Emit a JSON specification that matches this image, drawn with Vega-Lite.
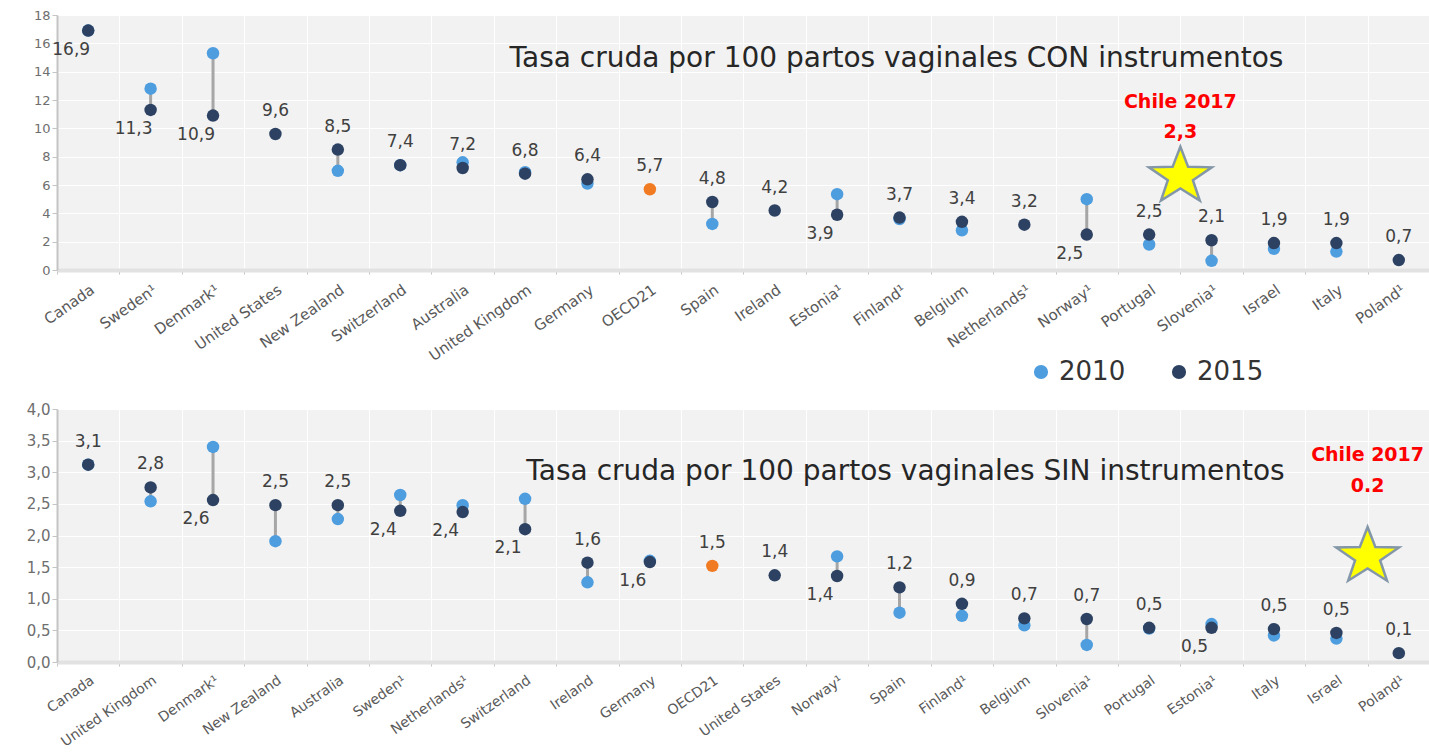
{
  "$schema": "https://vega.github.io/schema/vega-lite/v6.json",
  "background": "white",
  "padding": {"left": 26, "top": 9, "right": 0, "bottom": 0},
  "bounds": "flush",
  "spacing": 139,
  "config": {
    "locale": {"number": {"decimal": ",", "thousands": ".", "grouping": [3], "currency": ["", " €"]}},
    "font": "DejaVu Sans",
    "view": {"fill": "#f2f2f2", "stroke": null},
    "axis": {"gridColor": "#ffffff", "gridWidth": 1, "labelColor": "#6e6e6e", "tickColor": "#c4c4c4", "title": null},
    "legend": {"padding": 0}
  },
  "datasets": {
    "con": [
      {"country": "Canada", "2010": 16.9, "2015": 16.9},
      {"country": "Sweden¹", "2010": 12.8, "2015": 11.3},
      {"country": "Denmark¹", "2010": 15.3, "2015": 10.9},
      {"country": "United States", "2010": null, "2015": 9.6},
      {"country": "New Zealand", "2010": 7.0, "2015": 8.5},
      {"country": "Switzerland", "2010": 7.4, "2015": 7.4},
      {"country": "Australia", "2010": 7.6, "2015": 7.2},
      {"country": "United Kingdom", "2010": 6.9, "2015": 6.8},
      {"country": "Germany", "2010": 6.1, "2015": 6.4},
      {"country": "OECD21", "2010": null, "2015": 5.7},
      {"country": "Spain", "2010": 3.25, "2015": 4.8},
      {"country": "Ireland", "2010": null, "2015": 4.2},
      {"country": "Estonia¹", "2010": 5.35, "2015": 3.9},
      {"country": "Finland¹", "2010": 3.6, "2015": 3.7},
      {"country": "Belgium", "2010": 2.8, "2015": 3.4},
      {"country": "Netherlands¹", "2010": null, "2015": 3.2},
      {"country": "Norway¹", "2010": 5.0, "2015": 2.5},
      {"country": "Portugal", "2010": 1.8, "2015": 2.5},
      {"country": "Slovenia¹", "2010": 0.65, "2015": 2.1},
      {"country": "Israel", "2010": 1.5, "2015": 1.9},
      {"country": "Italy", "2010": 1.3, "2015": 1.9},
      {"country": "Poland¹", "2010": null, "2015": 0.7}
    ],
    "sin": [
      {"country": "Canada", "2010": 3.12, "2015": 3.12},
      {"country": "United Kingdom", "2010": 2.54, "2015": 2.76},
      {"country": "Denmark¹", "2010": 3.4, "2015": 2.56},
      {"country": "New Zealand", "2010": 1.91, "2015": 2.48},
      {"country": "Australia", "2010": 2.26, "2015": 2.48},
      {"country": "Sweden¹", "2010": 2.64, "2015": 2.39},
      {"country": "Netherlands¹", "2010": 2.48, "2015": 2.37},
      {"country": "Switzerland", "2010": 2.58, "2015": 2.1},
      {"country": "Ireland", "2010": 1.26, "2015": 1.57},
      {"country": "Germany", "2010": 1.6, "2015": 1.58},
      {"country": "OECD21", "2010": null, "2015": 1.52},
      {"country": "United States", "2010": null, "2015": 1.37},
      {"country": "Norway¹", "2010": 1.67, "2015": 1.36},
      {"country": "Spain", "2010": 0.78, "2015": 1.18},
      {"country": "Finland¹", "2010": 0.73, "2015": 0.92},
      {"country": "Belgium", "2010": 0.58, "2015": 0.69},
      {"country": "Slovenia¹", "2010": 0.27, "2015": 0.68},
      {"country": "Portugal", "2010": 0.53, "2015": 0.54},
      {"country": "Estonia¹", "2010": 0.6, "2015": 0.54},
      {"country": "Italy", "2010": 0.42, "2015": 0.52},
      {"country": "Israel", "2010": 0.37, "2015": 0.46},
      {"country": "Poland¹", "2010": null, "2015": 0.14}
    ]
  },
  "resolve": {
    "scale": {"x": "independent", "y": "independent", "color": "independent"},
    "legend": {"color": "independent"}
  },
  "vconcat": [
    {
      "width": 1373,
      "height": 255,
      "data": {"name": "con"},
      "encoding": {
        "x": {
          "field": "country", "type": "nominal",
          "scale": {"domain": ["Canada", "Sweden¹", "Denmark¹", "United States", "New Zealand", "Switzerland", "Australia", "United Kingdom", "Germany", "OECD21", "Spain", "Ireland", "Estonia¹", "Finland¹", "Belgium", "Netherlands¹", "Norway¹", "Portugal", "Slovenia¹", "Israel", "Italy", "Poland¹"], "paddingInner": 0, "paddingOuter": 0},
          "axis": {"labelAngle": -35, "labelFontSize": 15, "labelColor": "#595959", "labelOverlap": false, "tickBand": "extent", "tickSize": 4, "grid": true, "domainColor": "#e2e2e2", "domainWidth": 4, "labelPadding": 8}
        }
      },
      "layer": [
        {
          "transform": [{"filter": "datum['2010'] != null"}],
          "mark": {"type": "rule", "color": "#a6a6a6", "strokeWidth": 3},
          "encoding": {
            "y": {"field": "2010", "type": "quantitative", "scale": {"domain": [0, 18], "nice": false},
              "axis": {"values": [0, 2, 4, 6, 8, 10, 12, 14, 16, 18], "format": "d", "labelFontSize": 13, "grid": true, "domainColor": "#c4c4c4", "domainWidth": 2, "tickSize": 5, "labelOverlap": false}},
            "y2": {"field": "2015"}
          }
        },
        {
          "transform": [{"fold": ["2010", "2015"], "as": ["year", "value"]}, {"filter": "datum.value != null"}],
          "mark": {"type": "circle", "size": 155, "opacity": 1},
          "encoding": {
            "y": {"field": "value", "type": "quantitative",
              "axis": {"values": [0, 2, 4, 6, 8, 10, 12, 14, 16, 18], "format": "d", "labelFontSize": 13, "grid": true, "domainColor": "#c4c4c4", "domainWidth": 2, "tickSize": 5, "labelOverlap": false}},
            "color": {
              "field": "year", "type": "nominal",
              "scale": {"domain": ["2010", "2015"], "range": ["#4e9ddf", "#2d4262"]},
              "condition": {"test": "datum.country === 'OECD21'", "value": "#f07b22"},
              "legend": {"orient": "none", "legendX": 971, "legendY": 344, "direction": "horizontal", "title": null, "labelFontSize": 26, "labelColor": "#333333", "symbolSize": 200, "symbolType": "circle", "columnPadding": 40, "labelOffset": 5}
            }
          }
        },
        {
          "transform": [{"filter": {"not": {"field": "country", "oneOf": ["Canada", "Sweden¹", "Denmark¹", "Estonia¹", "Norway¹"]}}}],
          "mark": {"type": "text", "dy": -23, "fontSize": 17, "color": "#404040"},
          "encoding": {
            "y": {"field": "2015", "type": "quantitative",
              "axis": {"values": [0, 2, 4, 6, 8, 10, 12, 14, 16, 18], "format": "d", "labelFontSize": 13, "grid": true, "domainColor": "#c4c4c4", "domainWidth": 2, "tickSize": 5, "labelOverlap": false}},
            "text": {"field": "2015", "type": "quantitative", "format": ".1f"}
          }
        },
        {
          "transform": [{"filter": {"field": "country", "oneOf": ["Canada", "Sweden¹", "Denmark¹", "Estonia¹", "Norway¹"]}}],
          "mark": {"type": "text", "dy": 19, "dx": -17, "fontSize": 17, "color": "#404040"},
          "encoding": {
            "y": {"field": "2015", "type": "quantitative",
              "axis": {"values": [0, 2, 4, 6, 8, 10, 12, 14, 16, 18], "format": "d", "labelFontSize": 13, "grid": true, "domainColor": "#c4c4c4", "domainWidth": 2, "tickSize": 5, "labelOverlap": false}},
            "text": {"field": "2015", "type": "quantitative", "format": ".1f"}
          }
        },
        {
          "data": {"values": [{}]},
          "mark": {"type": "text", "text": "Tasa cruda por 100 partos vaginales CON instrumentos", "fontSize": 28, "color": "#262626", "dx": -3},
          "encoding": {"x": {"datum": "Finland¹"}, "y": {"datum": 14.9, "type": "quantitative",
              "axis": {"values": [0, 2, 4, 6, 8, 10, 12, 14, 16, 18], "format": "d", "labelFontSize": 13, "grid": true, "domainColor": "#c4c4c4", "domainWidth": 2, "tickSize": 5, "labelOverlap": false}}}
        },
        {
          "data": {"values": [{}]},
          "mark": {"type": "text", "text": "Chile 2017", "fontSize": 19, "fontWeight": "bold", "color": "#ff0000"},
          "encoding": {"x": {"datum": "Portugal", "bandPosition": 1}, "y": {"datum": 11.85, "type": "quantitative",
              "axis": {"values": [0, 2, 4, 6, 8, 10, 12, 14, 16, 18], "format": "d", "labelFontSize": 13, "grid": true, "domainColor": "#c4c4c4", "domainWidth": 2, "tickSize": 5, "labelOverlap": false}}}
        },
        {
          "data": {"values": [{}]},
          "mark": {"type": "text", "text": "2,3", "fontSize": 19, "fontWeight": "bold", "color": "#ff0000"},
          "encoding": {"x": {"datum": "Portugal", "bandPosition": 1}, "y": {"datum": 9.75, "type": "quantitative",
              "axis": {"values": [0, 2, 4, 6, 8, 10, 12, 14, 16, 18], "format": "d", "labelFontSize": 13, "grid": true, "domainColor": "#c4c4c4", "domainWidth": 2, "tickSize": 5, "labelOverlap": false}}}
        },
        {
          "data": {"values": [{}]},
          "mark": {"type": "point", "shape": "M0,-0.814L0.235,-0.206L0.951,-0.192L0.38,0.198L0.588,0.814L0,0.446L-0.588,0.814L-0.38,0.198L-0.951,-0.192L-0.235,-0.206Z", "size": 4356, "filled": true, "fill": "#ffff00", "stroke": "#8497a8", "strokeWidth": 2.5, "opacity": 1},
          "encoding": {"x": {"datum": "Portugal", "bandPosition": 1}, "y": {"datum": 6.8, "type": "quantitative",
              "axis": {"values": [0, 2, 4, 6, 8, 10, 12, 14, 16, 18], "format": "d", "labelFontSize": 13, "grid": true, "domainColor": "#c4c4c4", "domainWidth": 2, "tickSize": 5, "labelOverlap": false}}}
        }
      ]
    },
    {
      "width": 1373,
      "height": 253,
      "data": {"name": "sin"},
      "encoding": {
        "x": {
          "field": "country", "type": "nominal",
          "scale": {"domain": ["Canada", "United Kingdom", "Denmark¹", "New Zealand", "Australia", "Sweden¹", "Netherlands¹", "Switzerland", "Ireland", "Germany", "OECD21", "United States", "Norway¹", "Spain", "Finland¹", "Belgium", "Slovenia¹", "Portugal", "Estonia¹", "Italy", "Israel", "Poland¹"], "paddingInner": 0, "paddingOuter": 0},
          "axis": {"labelAngle": -35, "labelFontSize": 14, "labelColor": "#595959", "labelOverlap": false, "tickBand": "extent", "tickSize": 4, "grid": true, "domainColor": "#e2e2e2", "domainWidth": 4, "labelPadding": 7}
        }
      },
      "layer": [
        {
          "transform": [{"filter": "datum['2010'] != null"}],
          "mark": {"type": "rule", "color": "#a6a6a6", "strokeWidth": 3},
          "encoding": {
            "y": {"field": "2010", "type": "quantitative", "scale": {"domain": [0, 4], "nice": false},
              "axis": {"values": [0, 0.5, 1, 1.5, 2, 2.5, 3, 3.5, 4], "format": ".1f", "labelFontSize": 15, "grid": true, "domainColor": "#c4c4c4", "domainWidth": 2, "tickSize": 5, "labelOverlap": false}},
            "y2": {"field": "2015"}
          }
        },
        {
          "transform": [{"fold": ["2010", "2015"], "as": ["year", "value"]}, {"filter": "datum.value != null"}],
          "mark": {"type": "circle", "size": 155, "opacity": 1},
          "encoding": {
            "y": {"field": "value", "type": "quantitative",
              "axis": {"values": [0, 0.5, 1, 1.5, 2, 2.5, 3, 3.5, 4], "format": ".1f", "labelFontSize": 15, "grid": true, "domainColor": "#c4c4c4", "domainWidth": 2, "tickSize": 5, "labelOverlap": false}},
            "color": {
              "field": "year", "type": "nominal",
              "scale": {"domain": ["2010", "2015"], "range": ["#4e9ddf", "#2d4262"]},
              "condition": {"test": "datum.country === 'OECD21'", "value": "#f07b22"},
              "legend": null
            }
          }
        },
        {
          "transform": [{"filter": {"not": {"field": "country", "oneOf": ["Denmark¹", "Sweden¹", "Netherlands¹", "Switzerland", "Germany", "Norway¹", "Estonia¹"]}}}],
          "mark": {"type": "text", "dy": -23, "fontSize": 17, "color": "#404040"},
          "encoding": {
            "y": {"field": "2015", "type": "quantitative",
              "axis": {"values": [0, 0.5, 1, 1.5, 2, 2.5, 3, 3.5, 4], "format": ".1f", "labelFontSize": 15, "grid": true, "domainColor": "#c4c4c4", "domainWidth": 2, "tickSize": 5, "labelOverlap": false}},
            "text": {"field": "2015", "type": "quantitative", "format": ".1f"}
          }
        },
        {
          "transform": [{"filter": {"field": "country", "oneOf": ["Denmark¹", "Sweden¹", "Netherlands¹", "Switzerland", "Germany", "Norway¹", "Estonia¹"]}}],
          "mark": {"type": "text", "dy": 19, "dx": -17, "fontSize": 17, "color": "#404040"},
          "encoding": {
            "y": {"field": "2015", "type": "quantitative",
              "axis": {"values": [0, 0.5, 1, 1.5, 2, 2.5, 3, 3.5, 4], "format": ".1f", "labelFontSize": 15, "grid": true, "domainColor": "#c4c4c4", "domainWidth": 2, "tickSize": 5, "labelOverlap": false}},
            "text": {"field": "2015", "type": "quantitative", "format": ".1f"}
          }
        },
        {
          "data": {"values": [{}]},
          "mark": {"type": "text", "text": "Tasa cruda por 100 partos vaginales SIN instrumentos", "fontSize": 28, "color": "#262626", "dx": 6},
          "encoding": {"x": {"datum": "Spain"}, "y": {"datum": 3.0, "type": "quantitative",
              "axis": {"values": [0, 0.5, 1, 1.5, 2, 2.5, 3, 3.5, 4], "format": ".1f", "labelFontSize": 15, "grid": true, "domainColor": "#c4c4c4", "domainWidth": 2, "tickSize": 5, "labelOverlap": false}}}
        },
        {
          "data": {"values": [{}]},
          "mark": {"type": "text", "text": "Chile 2017", "fontSize": 19, "fontWeight": "bold", "color": "#ff0000"},
          "encoding": {"x": {"datum": "Israel", "bandPosition": 1}, "y": {"datum": 3.27, "type": "quantitative",
              "axis": {"values": [0, 0.5, 1, 1.5, 2, 2.5, 3, 3.5, 4], "format": ".1f", "labelFontSize": 15, "grid": true, "domainColor": "#c4c4c4", "domainWidth": 2, "tickSize": 5, "labelOverlap": false}}}
        },
        {
          "data": {"values": [{}]},
          "mark": {"type": "text", "text": "0.2", "fontSize": 19, "fontWeight": "bold", "color": "#ff0000"},
          "encoding": {"x": {"datum": "Israel", "bandPosition": 1}, "y": {"datum": 2.79, "type": "quantitative",
              "axis": {"values": [0, 0.5, 1, 1.5, 2, 2.5, 3, 3.5, 4], "format": ".1f", "labelFontSize": 15, "grid": true, "domainColor": "#c4c4c4", "domainWidth": 2, "tickSize": 5, "labelOverlap": false}}}
        },
        {
          "data": {"values": [{}]},
          "mark": {"type": "point", "shape": "M0,-0.814L0.235,-0.206L0.951,-0.192L0.38,0.198L0.588,0.814L0,0.446L-0.588,0.814L-0.38,0.198L-0.951,-0.192L-0.235,-0.206Z", "size": 4356, "filled": true, "fill": "#ffff00", "stroke": "#8497a8", "strokeWidth": 2.5, "opacity": 1},
          "encoding": {"x": {"datum": "Israel", "bandPosition": 1}, "y": {"datum": 1.71, "type": "quantitative",
              "axis": {"values": [0, 0.5, 1, 1.5, 2, 2.5, 3, 3.5, 4], "format": ".1f", "labelFontSize": 15, "grid": true, "domainColor": "#c4c4c4", "domainWidth": 2, "tickSize": 5, "labelOverlap": false}}}
        }
      ]
    }
  ]
}
